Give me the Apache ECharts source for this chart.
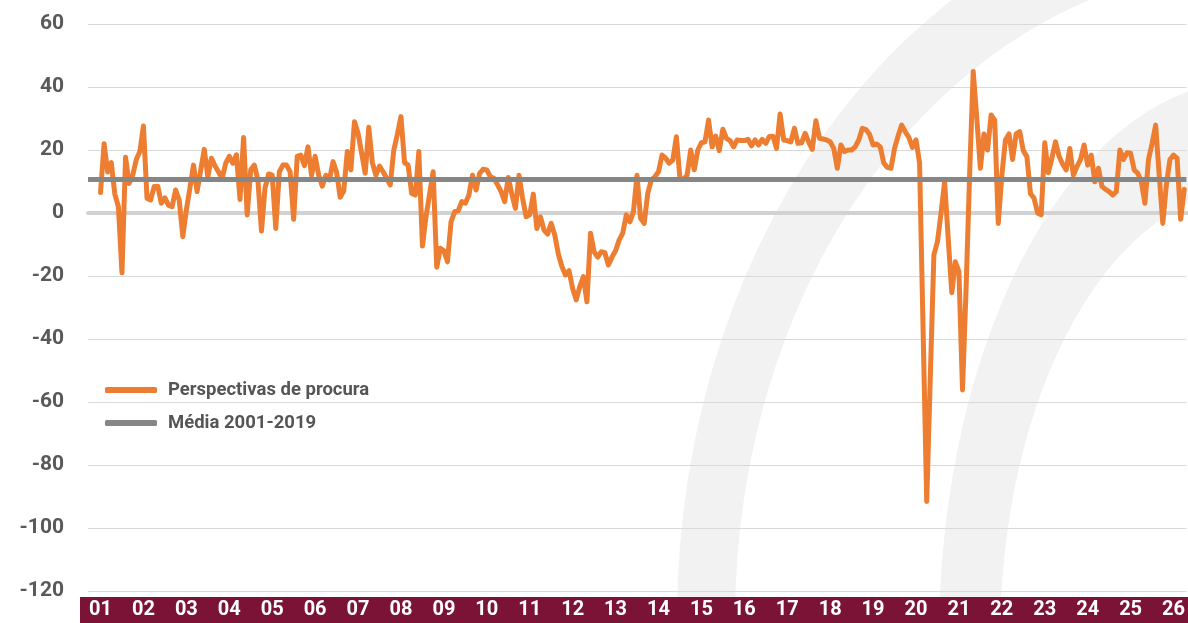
<!DOCTYPE html>
<html>
<head>
<meta charset="utf-8">
<script src="https://cdn.jsdelivr.net/npm/echarts@6/dist/echarts.min.js"></script>
<style>
html, body { margin: 0; padding: 0; background: #fff; }
#main { width: 1188px; height: 623px; }
</style>
</head>
<body>
<div id="main"></div>
<script>
// anos (rótulos do eixo)
var anos = ['01','02','03','04','05','06','07','08','09','10','11','12','13',
            '14','15','16','17','18','19','20','21','22','23','24','25','26'];

// Perspectivas de procura, mensal desde jan/2001
var procura = [
  6.5, 22, 13, 16, 6, 2, -19, 17.7, 9.4, 12, 17, 19.5,
  27.6, 4.7, 4.1, 8.4, 8.5, 3.1, 4.8, 2.5, 2, 7.3, 4.1, -7.5,
  1, 8, 15.2, 6.8, 13.5, 20.2, 11.5, 17.4, 15, 13, 11, 15.8,
  18, 15.8, 18.5, 4.3, 24, -0.6, 13.7, 15.2, 10.5, -5.7, 8, 12.4,
  12, -4.9, 13.1, 15.2, 15.2, 13.1, -2, 18, 18.4, 15, 21, 12,
  18, 12, 8.5, 12, 10.5, 16.3, 13, 5, 7, 19.5, 13.7, 29,
  25.3, 19, 12.6, 27.2, 16, 12, 14.9, 13.1, 11, 8.9, 20, 25,
  30.6, 16, 15.2, 6.2, 5.7, 19.5, -10.5, -1.2, 6, 13.1, -17.2, -11.2,
  -12, -15.5, -2.8, 0.4, 0.7, 3.6, 3.1, 5.7, 12, 7.3, 12.6, 13.9,
  13.7, 11.5, 11, 9, 6.8, 3.6, 11.3, 6, 1.5, 12, 4.7, -1.2,
  -0.6, 6, -4.9, -1.2, -5.4, -6.7, -3.3, -7, -13, -17, -19.7, -18.3,
  -24, -27.6, -23.4, -20.2, -28.2, -6.4, -12.3, -14, -12.3, -12.6, -16.5, -14,
  -12, -8.6, -6.4, -0.6, -2.8, 0.4, 12, -1.7, -3.3, 6.2, 10.5, 11.5,
  13.1, 18.4, 17.4, 15.8, 16.8, 24.2, 11, 10.7, 12, 20, 13.7, 20,
  22.3, 22.6, 29.5, 21, 24.4, 19.8, 26.6, 23.7, 23, 21, 23.2, 23,
  23, 23.4, 21.3, 23.2, 21.6, 23.4, 22.1, 24.3, 24.4, 20.5, 31.4, 23.2,
  23, 22.6, 26.9, 22.1, 22.3, 25.3, 22.5, 20.2, 29.3, 23.7, 23.5, 23.2,
  22.6, 20.5, 14.2, 21.6, 19.5, 20, 20, 21, 23.2, 26.9, 26.5, 25,
  21.6, 21.9, 21, 15.8, 14.5, 14.2, 20.5, 24.5, 27.9, 25.8, 24, 20.8,
  23.2, 15.8, -38, -91.6, -52, -13.3, -9.1, 0, 9.9, -8, -25.3, -15.5,
  -18.6, -56.2, -24, 12.5, 44.9, 30, 14.2, 25.1, 20, 31.1, 29.5, -3.3,
  12, 23.2, 25.1, 17, 25.1, 25.8, 19.8, 17.9, 6.2, 4.7, 0, -0.6,
  22.3, 12.8, 17.5, 22.6, 18, 15.5, 13.7, 20.5, 12, 14.7, 17, 21.6,
  15.2, 18.4, 9.9, 14.2, 8.4, 7.5, 6.8, 5.7, 6.8, 20, 17, 19.1,
  19, 13.7, 12.6, 10, 3.1, 17, 22, 27.9, 12, -3.3, 9, 17,
  18.4, 17.4, -2, 7.5
];

// média 2001-2019
var media = 10.8;

var myChart = echarts.init(document.getElementById('main'));

var cinza = '#f2f2f2';
var fonte = 'Roboto, "DejaVu Sans", sans-serif';

// um rótulo por ano, em janeiro
var janeiros = anos.map(function (a, k) { return k * 12; });

var option = {
    backgroundColor: '#fff',
    animation: false,
    // marca de água ao fundo
    graphic: [
        {
            type: 'sector', z: -10, silent: true,
            x: 1250, y: 620, scaleY: 1.267,
            shape: { cx: 0, cy: 0, r: 573, r0: 515, startAngle: Math.PI / 2, endAngle: Math.PI * 1.5 },
            style: { fill: cinza }
        },
        {
            type: 'sector', z: -10, silent: true,
            x: 1250, y: 640, scaleY: 1.8,
            shape: { cx: 0, cy: 0, r: 311, r0: 250, startAngle: Math.PI / 2, endAngle: Math.PI * 1.5 },
            style: { fill: cinza }
        },
        {
            // faixa dos anos
            type: 'rect', z: -5, silent: true,
            shape: { x: 80, y: 597, width: 1108, height: 26 },
            style: { fill: '#7a1335' }
        }
    ],
    legend: {
        orient: 'vertical',
        left: 105,
        top: 380,
        padding: 0,
        itemGap: 13,
        itemWidth: 52,
        itemHeight: 6,
        icon: 'roundRect',
        textStyle: {
            fontFamily: fonte,
            fontSize: 18.5,
            fontWeight: 'bold',
            color: '#555',
            lineHeight: 20,
            padding: [0, 0, 0, 6]
        },
        data: ['Perspectivas de procura', 'Média 2001-2019']
    },
    grid: { left: 88, right: 0, top: 24, bottom: 32 },
    xAxis: [
        {
            type: 'value',
            min: -3.5,
            max: 303.6,
            axisLine: { show: true, onZero: true, lineStyle: { color: '#d2d2d2', width: 4 } },
            axisTick: { show: false },
            axisLabel: { show: false },
            splitLine: { show: false }
        },
        {
            // rótulos dos anos, dentro da faixa
            type: 'value',
            min: -3.5,
            max: 303.6,
            position: 'bottom',
            axisLine: { show: false },
            axisTick: { show: false },
            splitLine: { show: false },
            axisLabel: {
                customValues: janeiros,
                margin: 19,
                verticalAlign: 'middle',
                color: '#fff',
                fontFamily: fonte,
                fontSize: 20,
                fontWeight: 'bold',
                formatter: function (v) { return anos[Math.round(v / 12)]; }
            }
        }
    ],
    yAxis: {
        type: 'value',
        min: -120,
        max: 60,
        interval: 20,
        axisLine: { show: false },
        axisTick: { show: false },
        axisLabel: {
            margin: 24,
            color: '#595959',
            fontFamily: fonte,
            fontSize: 21,
            fontWeight: 'bold'
        },
        splitLine: { lineStyle: { color: '#d9d9d9', width: 1 } }
    },
    series: [
        {
            name: 'Média 2001-2019',
            type: 'line',
            z: 1,
            color: '#868686',
            data: [],
            markLine: {
                silent: true,
                symbol: ['none', 'none'],
                label: { show: false },
                lineStyle: { color: '#868686', width: 5, type: 'solid' },
                data: [{ yAxis: media }]
            }
        },
        {
            name: 'Perspectivas de procura',
            type: 'line',
            z: 3,
            color: '#ed7d31',
            showSymbol: false,
            symbol: 'none',
            lineStyle: { width: 5, color: '#ed7d31', cap: 'round', join: 'round' },
            data: procura.map(function (v, i) { return [i, v]; })
        }
    ]
};

myChart.setOption(option);
</script>
</body>
</html>
